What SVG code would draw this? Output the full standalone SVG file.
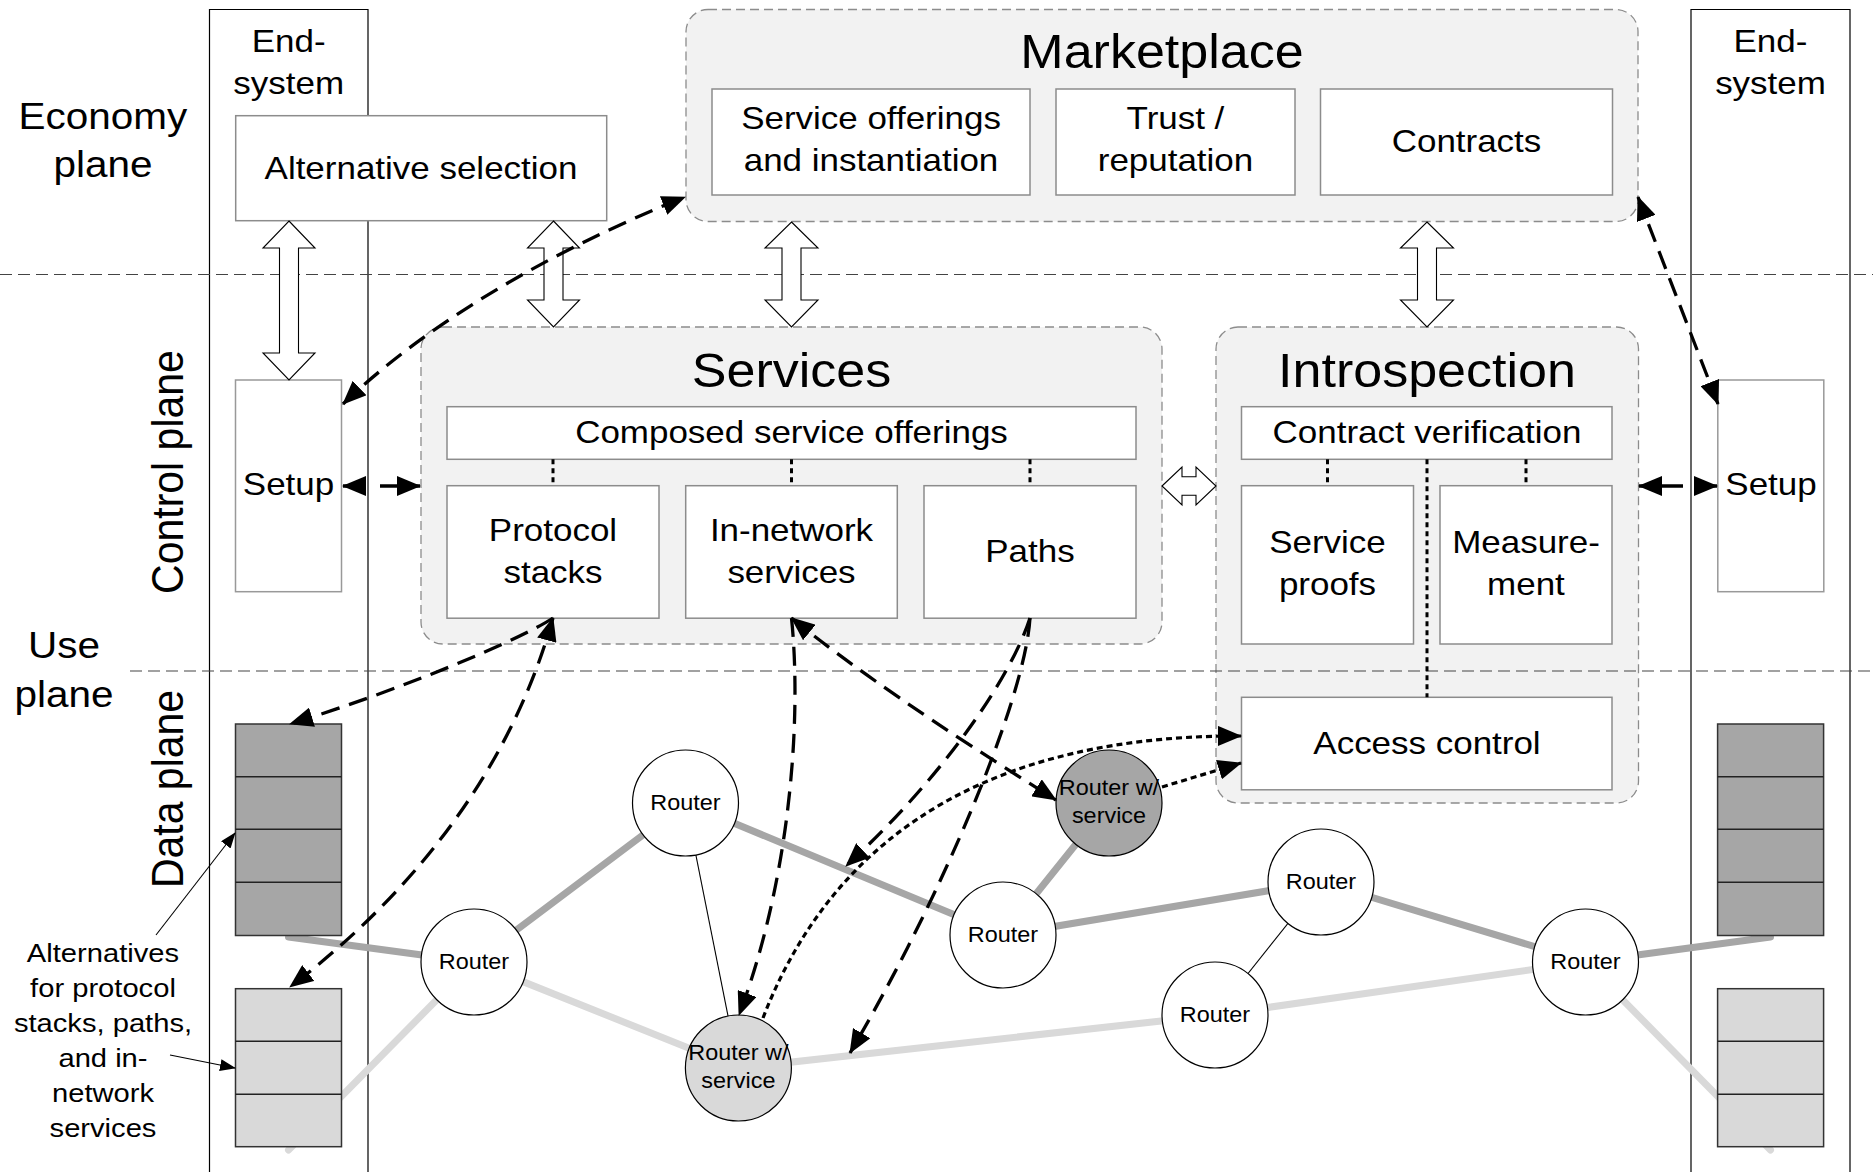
<svg xmlns="http://www.w3.org/2000/svg" width="1873" height="1172" viewBox="0 0 1873 1172">
<style>
  text { font-family: "Liberation Sans", Arial, sans-serif; fill: #000; text-anchor: middle; }
  .w { transform-box: fill-box; transform-origin: center; transform: scaleX(1.1); }
  .title { font-size: 47.3px; }
  .body { font-size: 31.8px; }
  .plane { font-size: 36.8px; }
  .rt { font-size: 21.3px; }
  .note { font-size: 26.5px; }
  .sep { stroke: #444; stroke-width: 1.2; stroke-dasharray: 12 6; fill: none; }
  .col { stroke: #000; stroke-width: 1.2; fill: none; }
  .group { fill: #f2f2f2; stroke: #8c8c8c; stroke-width: 1.3; stroke-dasharray: 9 5; }
  .box { fill: #fff; stroke: #8c8c8c; stroke-width: 1.5; }
  .hollow { fill: #fff; stroke: #000; stroke-width: 1.1; stroke-linejoin: miter; }
  .dark { stroke: #a6a6a6; stroke-width: 7; stroke-linecap: round; fill: none; }
  .light { stroke: #d9d9d9; stroke-width: 7; stroke-linecap: round; fill: none; }
  .thin { stroke: #000; stroke-width: 1.1; fill: none; }
  .router { fill: #fff; stroke: #000; stroke-width: 1.2; }
  .svc-light { fill: #d9d9d9; }
  .svc-dark { fill: #a6a6a6; }
  .cell { stroke: #222; stroke-width: 1.6; }
  .dash { stroke: #000; stroke-width: 3.3; stroke-dasharray: 19 10; fill: none; }
  .dot { stroke: #000; stroke-width: 3; stroke-dasharray: 5 4; fill: none; }
  .dotc { stroke: #000; stroke-width: 3.2; stroke-dasharray: 6 4; fill: none; }
</style>
<defs>
  <marker id="ah" viewBox="0 0 24 20" refX="23" refY="10" markerWidth="24" markerHeight="20" markerUnits="userSpaceOnUse" orient="auto-start-reverse">
    <path d="M0,0 L24,10 L0,20 z" fill="#000"/>
  </marker>
  <marker id="ahs" viewBox="0 0 16 12" refX="15" refY="6" markerWidth="16" markerHeight="12" markerUnits="userSpaceOnUse" orient="auto">
    <path d="M0,0 L16,6 L0,12 z" fill="#000"/>
  </marker>
</defs>

<!-- plane labels -->
<g id="plane-labels">
  <text class="plane w" x="103" y="129">Economy</text>
  <text class="plane w" x="103" y="177">plane</text>
  <text class="plane w" x="64" y="658">Use</text>
  <text class="plane w" x="64" y="707">plane</text>
  <text style="font-size:41px" transform="translate(183,472) scale(1.1,1) rotate(-90)" x="0" y="0">Control plane</text>
  <text style="font-size:41px" transform="translate(183,789) scale(1.1,1) rotate(-90)" x="0" y="0">Data plane</text>
</g>

<!-- end-system columns -->
<g id="endsystem-left">
  <path class="col" d="M209.5,1172 V9.5 H368 V1172"/>
  <text class="body w" x="288.7" y="52">End-</text>
  <text class="body w" x="288.7" y="94">system</text>
</g>
<g id="endsystem-right">
  <path class="col" d="M1691,1172 V9.5 H1850 V1172"/>
  <text class="body w" x="1770.5" y="52">End-</text>
  <text class="body w" x="1770.5" y="94">system</text>
</g>

<!-- marketplace -->
<g id="marketplace">
  <rect class="group" x="686" y="9.5" width="952" height="212" rx="22"/>
  <text class="title w" x="1162" y="68">Marketplace</text>
</g>
<g id="service-offerings">
  <rect class="box" x="712" y="89" width="318" height="106"/>
  <text class="body w" x="871" y="129.5">Service offerings</text>
  <text class="body w" x="871" y="171.5">and instantiation</text>
</g>
<g id="trust">
  <rect class="box" x="1056" y="89" width="239" height="106"/>
  <text class="body w" x="1175.5" y="129.5">Trust /</text>
  <text class="body w" x="1175.5" y="171.5">reputation</text>
</g>
<g id="contracts">
  <rect class="box" x="1320.5" y="89" width="292" height="106"/>
  <text class="body w" x="1466.5" y="152">Contracts</text>
</g>

<!-- alternative selection -->
<g id="alt-selection">
  <rect class="box" x="235.7" y="115.7" width="371" height="105"/>
  <text class="body w" x="421" y="179">Alternative selection</text>
</g>

<!-- services -->
<g id="services">
  <rect class="group" x="421" y="327" width="741" height="317" rx="22"/>
  <text class="title w" x="791.5" y="387">Services</text>
</g>
<g id="composed">
  <rect class="box" x="447" y="406.7" width="689" height="52.6"/>
  <text class="body w" x="791.5" y="443">Composed service offerings</text>
</g>
<g id="protocol-stacks">
  <rect class="box" x="447" y="485.7" width="212" height="132.5"/>
  <text class="body w" x="553" y="541.5">Protocol</text>
  <text class="body w" x="553" y="583">stacks</text>
</g>
<g id="in-network">
  <rect class="box" x="685.7" y="485.7" width="211.6" height="132.5"/>
  <text class="body w" x="791.5" y="541.5">In-network</text>
  <text class="body w" x="791.5" y="583">services</text>
</g>
<g id="paths">
  <rect class="box" x="924" y="485.7" width="212" height="132.5"/>
  <text class="body w" x="1030" y="562">Paths</text>
</g>

<!-- introspection -->
<g id="introspection">
  <rect class="group" x="1216" y="327" width="422.5" height="476" rx="22"/>
  <text class="title w" x="1427" y="387">Introspection</text>
</g>
<g id="contract-verification">
  <rect class="box" x="1241.5" y="406.7" width="370.5" height="52.6"/>
  <text class="body w" x="1427" y="443">Contract verification</text>
</g>
<g id="service-proofs">
  <rect class="box" x="1241.5" y="485.7" width="172" height="158.3"/>
  <text class="body w" x="1327.5" y="553">Service</text>
  <text class="body w" x="1327.5" y="595">proofs</text>
</g>
<g id="measurement">
  <rect class="box" x="1440" y="485.7" width="172" height="158.3"/>
  <text class="body w" x="1526" y="553">Measure-</text>
  <text class="body w" x="1526" y="595">ment</text>
</g>
<g id="access-control">
  <rect class="box" x="1241.5" y="697.3" width="370.5" height="92.5"/>
  <text class="body w" x="1427" y="754">Access control</text>
</g>

<!-- setup boxes -->
<g id="setup-left">
  <rect class="box" x="235.5" y="380" width="106" height="211.7" style="stroke:#999"/>
  <text class="body w" x="288.5" y="495">Setup</text>
</g>
<g id="setup-right">
  <rect class="box" x="1717.8" y="380" width="106" height="211.7" style="stroke:#999"/>
  <text class="body w" x="1771" y="495">Setup</text>
</g>

<!-- plane separators -->
<g id="separators">
  <line class="sep" x1="0" y1="274.5" x2="1873" y2="274.5"/>
  <line class="sep" x1="130" y1="671" x2="1873" y2="671"/>
</g>

<!-- hollow double arrows between layers -->
<g id="interface-arrows">
  <polygon class="hollow" points="289,221 315,248 298.5,248 298.5,353 315,353 289,380 263,353 279.5,353 279.5,248 263,248"/>
  <polygon class="hollow" points="553.5,221 579.5,248 563,248 563,300 579.5,300 553.5,327 527.5,300 544,300 544,248 527.5,248"/>
  <polygon class="hollow" points="791.5,222 818,248 801,248 801,300 818,300 791.5,327 765,300 782,300 782,248 765,248"/>
  <polygon class="hollow" points="1427,222 1453.5,248 1436.5,248 1436.5,300 1453.5,300 1427,327 1400.5,300 1417.5,300 1417.5,248 1400.5,248"/>
  <polygon class="hollow" points="1162,486 1182,467 1182,476.7 1196,476.7 1196,467 1216,486 1196,505 1196,495.3 1182,495.3 1182,505"/>
</g>

<!-- network links -->
<g id="links">
  <line class="dark" x1="288.5" y1="937" x2="474" y2="962"/>
  <line class="dark" x1="474" y1="962" x2="685.5" y2="803"/>
  <line class="dark" x1="685.5" y1="803" x2="1003" y2="935"/>
  <line class="dark" x1="1003" y1="935" x2="1109" y2="803"/>
  <line class="dark" x1="1003" y1="935" x2="1321" y2="882"/>
  <line class="dark" x1="1321" y1="882" x2="1585.5" y2="962"/>
  <line class="dark" x1="1585.5" y1="962" x2="1770.5" y2="937"/>
  <line class="light" x1="288.5" y1="1150" x2="474" y2="962"/>
  <line class="light" x1="474" y1="962" x2="738.4" y2="1068"/>
  <line class="light" x1="738.4" y1="1068" x2="1215" y2="1015"/>
  <line class="light" x1="1215" y1="1015" x2="1585.5" y2="962"/>
  <line class="light" x1="1585.5" y1="962" x2="1770.5" y2="1150"/>
  <line class="thin" x1="685.5" y1="803" x2="738.4" y2="1068"/>
  <line class="thin" x1="1321" y1="882" x2="1215" y2="1015"/>
</g>

<!-- alternative stacks in the end-systems -->
<g id="stack-left-dark">
  <rect x="235.5" y="724" width="106" height="211.5" fill="#a6a6a6" stroke="#333" stroke-width="1.5"/>
  <line class="cell" x1="235.5" y1="776.7" x2="341.5" y2="776.7"/>
  <line class="cell" x1="235.5" y1="829.3" x2="341.5" y2="829.3"/>
  <line class="cell" x1="235.5" y1="882.3" x2="341.5" y2="882.3"/>
</g>
<g id="stack-left-light">
  <rect x="235.5" y="988.7" width="106" height="158" fill="#d9d9d9" stroke="#333" stroke-width="1.5"/>
  <line class="cell" x1="235.5" y1="1041.3" x2="341.5" y2="1041.3"/>
  <line class="cell" x1="235.5" y1="1094.3" x2="341.5" y2="1094.3"/>
</g>
<g id="stack-right-dark">
  <rect x="1717.6" y="724" width="106" height="211.5" fill="#a6a6a6" stroke="#333" stroke-width="1.5"/>
  <line class="cell" x1="1717.6" y1="776.7" x2="1823.6" y2="776.7"/>
  <line class="cell" x1="1717.6" y1="829.3" x2="1823.6" y2="829.3"/>
  <line class="cell" x1="1717.6" y1="882.3" x2="1823.6" y2="882.3"/>
</g>
<g id="stack-right-light">
  <rect x="1717.6" y="988.7" width="106" height="158" fill="#d9d9d9" stroke="#333" stroke-width="1.5"/>
  <line class="cell" x1="1717.6" y1="1041.3" x2="1823.6" y2="1041.3"/>
  <line class="cell" x1="1717.6" y1="1094.3" x2="1823.6" y2="1094.3"/>
</g>

<!-- routers -->
<g id="router-1">
  <ellipse class="router" cx="474" cy="962" rx="53" ry="53"/>
  <text class="rt w" x="474" y="969.5">Router</text>
</g>
<g id="router-2">
  <ellipse class="router" cx="685.5" cy="803" rx="53" ry="53"/>
  <text class="rt w" x="685.5" y="810.5">Router</text>
</g>
<g id="router-svc-light">
  <ellipse class="router svc-light" cx="738.4" cy="1068" rx="53" ry="53"/>
  <text class="rt w" x="738.4" y="1060.5">Router w/</text>
  <text class="rt w" x="738.4" y="1088">service</text>
</g>
<g id="router-svc-dark">
  <ellipse class="router svc-dark" cx="1109" cy="803" rx="53" ry="53"/>
  <text class="rt w" x="1109" y="795.5">Router w/</text>
  <text class="rt w" x="1109" y="823">service</text>
</g>
<g id="router-5">
  <ellipse class="router" cx="1003" cy="935" rx="53" ry="53"/>
  <text class="rt w" x="1003" y="942.5">Router</text>
</g>
<g id="router-6">
  <ellipse class="router" cx="1215" cy="1015" rx="53" ry="53"/>
  <text class="rt w" x="1215" y="1022.5">Router</text>
</g>
<g id="router-7">
  <ellipse class="router" cx="1321" cy="882" rx="53" ry="53"/>
  <text class="rt w" x="1321" y="889.5">Router</text>
</g>
<g id="router-8">
  <ellipse class="router" cx="1585.5" cy="962" rx="53" ry="53"/>
  <text class="rt w" x="1585.5" y="969.5">Router</text>
</g>

<!-- annotation -->
<g id="alternatives-note">
  <text class="note w" x="103" y="962">Alternatives</text>
  <text class="note w" x="103" y="997">for protocol</text>
  <text class="note w" x="103" y="1032">stacks, paths,</text>
  <text class="note w" x="103" y="1067">and in-</text>
  <text class="note w" x="103" y="1102">network</text>
  <text class="note w" x="103" y="1137">services</text>
</g>

<!-- connectors -->
<g id="connectors">
  <line class="thin" x1="156" y1="935" x2="235" y2="833" marker-end="url(#ahs)"/>
  <line class="thin" x1="170" y1="1055" x2="235" y2="1068" marker-end="url(#ahs)"/>

  <line class="dot" x1="553" y1="459.3" x2="553" y2="485.7"/>
  <line class="dot" x1="791.5" y1="459.3" x2="791.5" y2="485.7"/>
  <line class="dot" x1="1030" y1="459.3" x2="1030" y2="485.7"/>
  <line class="dot" x1="1327.5" y1="459.3" x2="1327.5" y2="485.7"/>
  <line class="dot" x1="1526" y1="459.3" x2="1526" y2="485.7"/>
  <line class="dot" x1="1427" y1="459.3" x2="1427" y2="697.3"/>

  <path class="dash" d="M343,404 C420,330 540,255 685,197" marker-start="url(#ah)" marker-end="url(#ah)"/>
  <path class="dash" d="M1638,197 L1718,404" marker-start="url(#ah)" marker-end="url(#ah)"/>
  <path class="dash" d="M343,486 L420,486" style="stroke-dasharray:21 16 60" marker-start="url(#ah)" marker-end="url(#ah)"/>
  <path class="dash" d="M1639,486 L1717,486" style="stroke-dasharray:44 11 60" marker-start="url(#ah)" marker-end="url(#ah)"/>

  <path class="dash" d="M553,618 C520,640 400,690 290,724" marker-end="url(#ah)"/>
  <path class="dash" d="M553,618 C530,700 470,850 290,987" marker-start="url(#ah)" marker-end="url(#ah)"/>
  <path class="dash" d="M791.5,618 C802,720 790,880 739,1015" marker-end="url(#ah)"/>
  <path class="dash" d="M791.5,618 Q880,690 1056,800" marker-start="url(#ah)" marker-end="url(#ah)"/>
  <path class="dash" d="M1030,618 C1010,680 940,780 846,866" marker-end="url(#ah)"/>
  <path class="dash" d="M1030,618 C1025,700 940,900 850,1053" marker-end="url(#ah)"/>

  <path class="dotc" d="M763,1018 C820,870 950,735 1241,736" marker-end="url(#ah)"/>
  <path class="dotc" d="M1162,787 L1241,763" marker-end="url(#ah)"/>
</g>
</svg>
